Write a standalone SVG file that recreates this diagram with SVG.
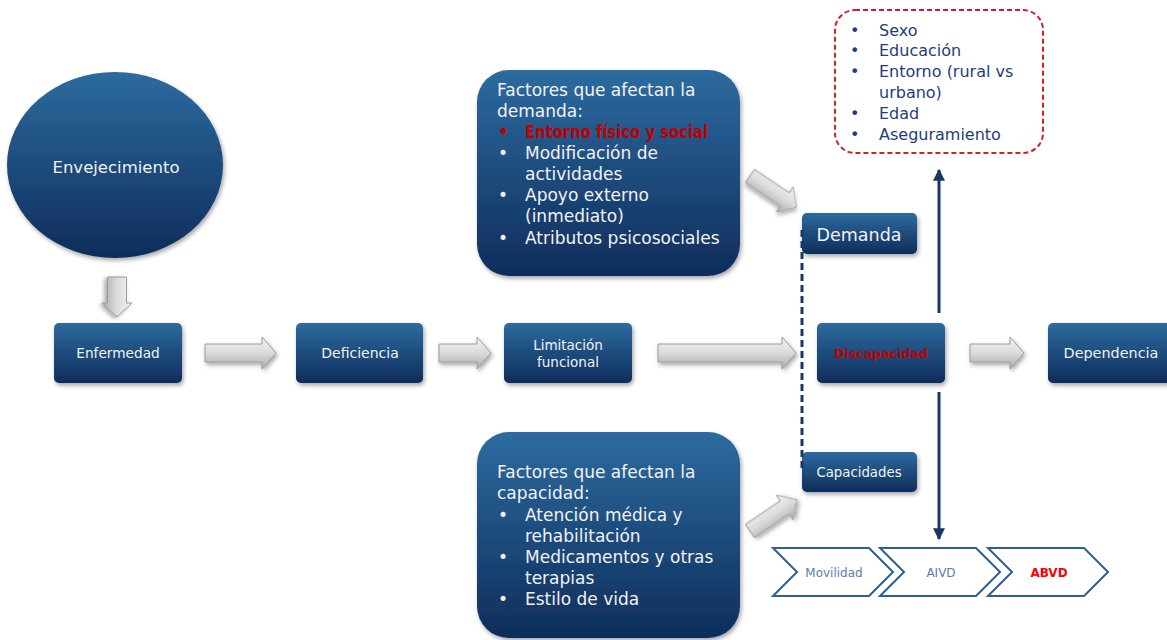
<svg xmlns="http://www.w3.org/2000/svg" width="1167" height="640" viewBox="0 0 1167 640">
<defs>
<linearGradient id="navy" x1="0" y1="0" x2="0" y2="1">
<stop offset="0" stop-color="#2d6b9f"/>
<stop offset="1" stop-color="#0e2d5b"/>
</linearGradient>
<linearGradient id="gray" x1="0" y1="0" x2="0" y2="1">
<stop offset="0" stop-color="#f4f4f4"/>
<stop offset="0.5" stop-color="#dadbdd"/>
<stop offset="1" stop-color="#a9aaad"/>
</linearGradient>
<filter id="sh" x="-20%" y="-20%" width="140%" height="150%">
<feDropShadow dx="1.5" dy="2.5" stdDeviation="2" flood-color="#000" flood-opacity="0.35"/>
</filter>
<marker id="ah" viewBox="0 0 10 10" refX="9" refY="5" markerWidth="4" markerHeight="4" orient="auto-start-reverse">
<path d="M0,0 L10,5 L0,10 Z" fill="#1a3768"/>
</marker>
<style>
.node{fill:url(#navy);filter:url(#sh);}
.t{font-family:"DejaVu Sans","Liberation Sans",sans-serif;fill:#f2f2f2;}
.c{text-anchor:middle;}
.garr{fill:url(#gray);stroke:#9c9c9c;stroke-width:1;filter:url(#sh);}
.nav{font-family:"DejaVu Sans","Liberation Sans",sans-serif;fill:#1f3d7a;font-size:16px;}
.chev{fill:#fff;stroke:#2e5f8e;stroke-width:2;}
.ct{font-family:"DejaVu Sans","Liberation Sans",sans-serif;font-size:12px;text-anchor:middle;fill:#5a7ea8;}
.red{fill:#c00000;font-weight:bold;}
</style>
</defs>
<rect width="1167" height="640" fill="#fff"/>

<g id="envejecimiento">
<ellipse cx="115" cy="165" rx="108" ry="93" class="node"/>
<text x="116" y="173" class="t c" font-size="16.5">Envejecimiento</text>
</g>

<g id="enfermedad">
<rect x="54" y="323" width="128" height="60" rx="5" class="node"/>
<text x="118" y="358" class="t c" font-size="13.7">Enfermedad</text>
</g>

<g id="deficiencia">
<rect x="296" y="323" width="127" height="60" rx="5" class="node"/>
<text x="360" y="358" class="t c" font-size="14">Deficiencia</text>
</g>

<g id="limitacion">
<rect x="504" y="323" width="128" height="60" rx="5" class="node"/>
<text x="568" y="350" class="t c" font-size="13.5">Limitación</text>
<text x="568" y="367" class="t c" font-size="13.5">funcional</text>
</g>

<g id="discapacidad">
<rect x="817" y="323" width="128" height="60" rx="5" class="node"/>
<text x="881" y="358" class="t c red" font-size="13" textLength="94" lengthAdjust="spacingAndGlyphs">Discapacidad</text>
</g>

<g id="dependencia">
<rect x="1048" y="323" width="130" height="60" rx="5" class="node"/>
<text x="1111" y="358" class="t c" font-size="14.4">Dependencia</text>
</g>

<g id="demanda">
<rect x="802" y="213" width="115" height="41" rx="5" class="node"/>
<text x="859" y="241" class="t c" font-size="17.5">Demanda</text>
</g>

<g id="capacidades">
<rect x="802" y="452" width="115" height="40" rx="5" class="node"/>
<text x="859" y="477" class="t c" font-size="13.3">Capacidades</text>
</g>

<g id="factores-demanda">
<rect x="477" y="70" width="263" height="206" rx="32" class="node"/>
<g class="t" font-size="17">
<text x="497" y="96">Factores que afectan la</text>
<text x="497" y="117">demanda:</text>
<text x="498" y="138" class="red">•</text>
<text x="525" y="138" class="red" textLength="183" lengthAdjust="spacingAndGlyphs">Entorno físico y social</text>
<text x="498" y="159">•</text>
<text x="525" y="159">Modificación de</text>
<text x="525" y="180">actividades</text>
<text x="498" y="201">•</text>
<text x="525" y="201">Apoyo externo</text>
<text x="525" y="222">(inmediato)</text>
<text x="498" y="244">•</text>
<text x="525" y="244">Atributos psicosociales</text>
</g>
</g>

<g id="factores-capacidad">
<rect x="477" y="432" width="263" height="206" rx="32" class="node"/>
<g class="t" font-size="17">
<text x="497" y="478">Factores que afectan la</text>
<text x="497" y="499">capacidad:</text>
<text x="498" y="521">•</text>
<text x="525" y="521">Atención médica y</text>
<text x="525" y="542">rehabilitación</text>
<text x="498" y="563">•</text>
<text x="525" y="563">Medicamentos y otras</text>
<text x="525" y="584">terapias</text>
<text x="498" y="605">•</text>
<text x="525" y="605">Estilo de vida</text>
</g>
</g>

<g id="variables">
<rect x="835" y="10" width="208" height="143" rx="20" fill="#fff" stroke="#d0202a" stroke-width="2" stroke-dasharray="5 3"/>
<text x="850" y="36" class="nav">•</text><text x="879" y="36" class="nav">Sexo</text>
<text x="850" y="56" class="nav">•</text><text x="879" y="56" class="nav">Educación</text>
<text x="850" y="77" class="nav">•</text><text x="879" y="77" class="nav">Entorno (rural vs</text>
<text x="879" y="98" class="nav">urbano)</text>
<text x="850" y="119" class="nav">•</text><text x="879" y="119" class="nav">Edad</text>
<text x="850" y="140" class="nav">•</text><text x="879" y="140" class="nav">Aseguramiento</text>
</g>

<g id="actividades">
<path class="chev" d="M773,548 H869 L893,572 L869,596 H773 L797,572 Z"/>
<text x="834" y="577" class="ct">Movilidad</text>
<path class="chev" d="M880,548 H976 L1000,572 L976,596 H880 L904,572 Z"/>
<text x="941" y="577" class="ct">AIVD</text>
<path class="chev" d="M988,548 H1084 L1108,572 L1084,596 H988 L1012,572 Z"/>
<text x="1049" y="577" class="ct" font-weight="bold" fill="#ff0000" style="fill:#ff0000">ABVD</text>
</g>

<g id="connectors">
<path class="garr" transform="translate(117,277) rotate(90)" d="M0,-9.5 H26 V-15 L40,0 L26,15 V9.5 H0 Z"/>
<path class="garr" transform="translate(205,353)" d="M0,-9 H57 V-16 L71,0 L57,16 V9 H0 Z"/>
<path class="garr" transform="translate(439,353)" d="M0,-9 H38 V-16 L52,0 L38,16 V9 H0 Z"/>
<path class="garr" transform="translate(658,353)" d="M0,-9 H124 V-16 L138,0 L124,16 V9 H0 Z"/>
<path class="garr" transform="translate(970,353)" d="M0,-9 H40 V-16 L54,0 L40,16 V9 H0 Z"/>
<path class="garr" transform="translate(750,176) rotate(34)" d="M0,-8 H42 V-15 L56,0 L42,15 V8 H0 Z"/>
<path class="garr" transform="translate(750,531) rotate(-34)" d="M0,-8 H42 V-15 L56,0 L42,15 V8 H0 Z"/>
<line x1="802" y1="230" x2="802" y2="472" stroke="#1a3768" stroke-width="3" stroke-dasharray="7 4"/>
<line x1="939" y1="313" x2="939" y2="170" stroke="#1a3768" stroke-width="3" marker-end="url(#ah)"/>
<line x1="939" y1="392" x2="939" y2="539" stroke="#1a3768" stroke-width="3" marker-end="url(#ah)"/>
</g>
</svg>
